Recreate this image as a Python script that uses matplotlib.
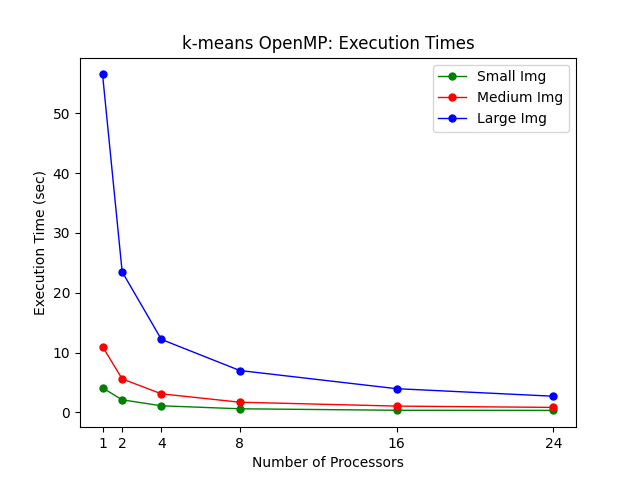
import matplotlib
matplotlib.use("Agg")
import matplotlib.pyplot as plt

processors = [1, 2, 4, 8, 16, 24]
small_img = [4.1, 2.1, 1.1, 0.6, 0.35, 0.33]
medium_img = [11.0, 5.6, 3.1, 1.7, 1.05, 0.83]
large_img = [56.5, 23.5, 12.2, 7.0, 3.96, 2.7]

fig, ax = plt.subplots(figsize=(6.4, 4.8), dpi=100)
ax.plot(processors, small_img, 'o-', color='green', linewidth=1, markersize=5, label='Small Img')
ax.plot(processors, medium_img, 'o-', color='red', linewidth=1, markersize=5, label='Medium Img')
ax.plot(processors, large_img, 'o-', color='blue', linewidth=1, markersize=5, label='Large Img')
ax.set_xticks(processors)
ax.set_xlabel('Number of Processors')
ax.set_ylabel('Execution Time (sec)')
ax.set_title('k-means OpenMP: Execution Times')
ax.legend(loc='upper right')
fig.savefig('out.png')
